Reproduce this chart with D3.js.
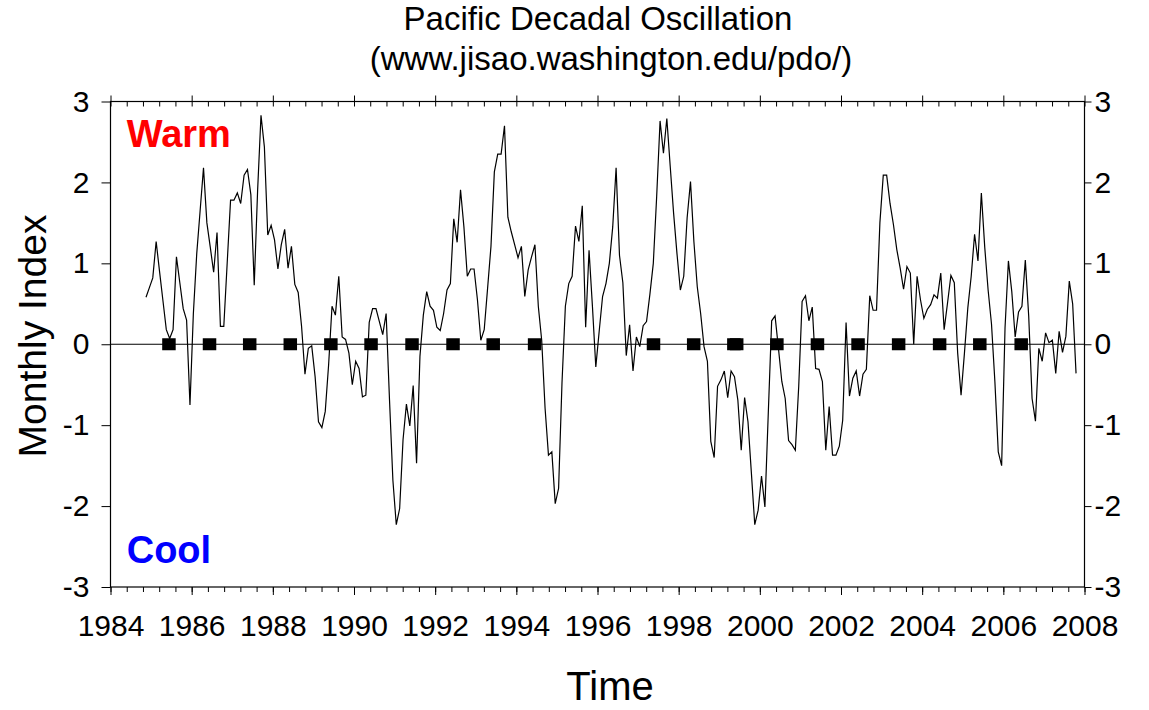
<!DOCTYPE html>
<html>
<head>
<meta charset="utf-8">
<script src="https://cdn.jsdelivr.net/npm/d3@7"></script>
<style>
  html, body { margin: 0; padding: 0; background: #fff; }
  svg { display: block; }
  text { font-family: "Liberation Sans", Arial, sans-serif; }
</style>
</head>
<body>
<svg id="chart" width="1149" height="710"></svg>
<script>
// Monthly PDO index, January 1985 through December 2007 (one row per year)
const firstYear = 1985;
const pdoMonthly = [
  0.58, 0.70, 0.82, 1.27, 0.90, 0.54, 0.18, 0.07, 0.18, 1.08, 0.76, 0.44,    // 1985
  0.30, -0.75, 0.38, 1.12, 1.65, 2.18, 1.50, 1.20, 0.89, 1.38, 0.22, 0.22,   // 1986
  1.00, 1.78, 1.78, 1.87, 1.74, 2.09, 2.16, 1.85, 0.73, 1.90, 2.83, 2.44,    // 1987
  1.35, 1.47, 1.29, 0.93, 1.23, 1.42, 0.94, 1.21, 0.74, 0.64, 0.22, -0.37,   // 1988
  -0.05, -0.02, -0.40, -0.96, -1.03, -0.83, -0.25, 0.47, 0.36, 0.84, 0.09, 0.06, // 1989
  -0.11, -0.50, -0.21, -0.30, -0.65, -0.63, 0.27, 0.44, 0.44, 0.28, 0.12, 0.38,  // 1990
  -0.69, -1.68, -2.23, -2.03, -1.18, -0.74, -1.01, -0.51, -1.47, -0.15, 0.36, 0.65, // 1991
  0.47, 0.42, 0.21, 0.17, 0.38, 0.67, 0.75, 1.55, 1.26, 1.91, 1.45, 0.84,    // 1992
  0.93, 0.93, 0.55, 0.05, 0.18, 0.69, 1.21, 2.13, 2.35, 2.35, 2.70, 1.57,    // 1993
  1.39, 1.23, 1.07, 1.21, 0.59, 0.92, 1.08, 1.23, 0.47, 0.05, -0.79, -1.37,  // 1994
  -1.33, -1.97, -1.78, -0.48, 0.47, 0.75, 0.84, 1.46, 1.27, 1.71, 0.21, 1.16, // 1995
  0.47, -0.28, 0.16, 0.59, 0.75, 1.00, 1.45, 2.18, 1.10, 0.76, -0.14, 0.24,  // 1996
  -0.33, 0.09, -0.03, 0.23, 0.28, 0.62, 1.00, 1.83, 2.76, 2.36, 2.79, 2.20,  // 1997
  1.62, 1.12, 0.67, 0.84, 1.56, 2.01, 1.27, 0.71, 0.38, -0.03, -0.21, -1.20, // 1998
  -1.40, -0.52, -0.44, -0.33, -0.66, -0.33, -0.40, -0.69, -1.31, -0.66, -0.96, -1.59, // 1999
  -2.23, -2.05, -1.63, -2.01, -0.85, 0.29, 0.35, -0.05, -0.46, -0.67, -1.19, -1.24, // 2000
  -1.31, -0.52, 0.53, 0.60, 0.29, 0.46, -0.30, -0.31, -0.46, -1.31, -0.77, -1.37, // 2001
  -1.37, -1.26, -0.94, 0.27, -0.64, -0.42, -0.33, -0.64, -0.37, -0.31, 0.60, 0.42, // 2002
  0.42, 1.50, 2.09, 2.09, 1.74, 1.48, 1.17, 0.94, 0.68, 0.96, 0.88, 0.00,    // 2003
  0.84, 0.55, 0.32, 0.43, 0.49, 0.61, 0.57, 0.88, 0.18, 0.51, 0.85, 0.76,    // 2004
  -0.11, -0.63, -0.11, 0.45, 0.84, 1.36, 1.03, 1.87, 1.20, 0.67, 0.25, -0.46, // 2005
  -1.33, -1.50, 0.20, 1.03, 0.65, 0.09, 0.40, 0.47, 1.04, 0.35, -0.67, -0.95, // 2006
  -0.05, -0.21, 0.14, 0.02, 0.05, -0.36, 0.16, -0.10, 0.10, 0.78, 0.50, -0.36  // 2007
];
// Monthly samples are plotted on a decimal-year axis, offset by 1.5 months
const monthOffset = -0.125;

// Annual reference markers along the zero line (decimal years)
const markerTimes = [
  1985.44, 1986.44, 1987.43, 1988.43, 1989.43, 1990.42, 1991.43, 1992.44, 1993.43, 1994.45,
  1997.38, 1998.37, 1999.36, 1999.43, 2000.42, 2001.42, 2002.42, 2003.42, 2004.43, 2005.42, 2006.44
];

const xMajorTicks = [1984, 1986, 1988, 1990, 1992, 1994, 1996, 1998, 2000, 2002, 2004, 2006, 2008];
const yTicks = [-3, -2, -1, 0, 1, 2, 3];
const xDomain = [1984, 2008];
const yDomain = [-3, 3];

const titleLines = ["Pacific Decadal Oscillation", "(www.jisao.washington.edu/pdo/)"];
const xLabel = "Time";
const yLabel = "Monthly Index";

// ---- layout ----
const svg = d3.select("#chart");
const W = 1149, H = 710;
const margin = { left: 110.5, right: W - 1084.5, top: 101.5, bottom: H - 587 };
const plotW = W - margin.left - margin.right;
const plotH = H - margin.top - margin.bottom;

const x = d3.scaleLinear().domain(xDomain).range([margin.left, margin.left + plotW]);
const y = d3.scaleLinear().domain(yDomain).range([margin.top + plotH, margin.top]);

const series = pdoMonthly.map((v, i) => ({ t: firstYear + monthOffset + i / 12, v }));
const minorTicks = d3.range(0, 61).map(k => xDomain[0] + k * 0.4);
const plainNumber = d => String(d);   // ASCII hyphen for negatives

// ---- title ----
svg.append("text").attr("x", 598).attr("y", 30)
  .attr("text-anchor", "middle").attr("font-size", 33).text(titleLines[0]);
svg.append("text").attr("x", 611).attr("y", 70)
  .attr("text-anchor", "middle").attr("font-size", 33).text(titleLines[1]);

// ---- zero line ----
svg.append("line")
  .attr("x1", x(xDomain[0])).attr("x2", x(xDomain[1]))
  .attr("y1", y(0)).attr("y2", y(0))
  .attr("stroke", "#000").attr("stroke-width", 1.2);

// ---- data line ----
const line = d3.line().x(d => x(d.t)).y(d => y(d.v));
svg.append("path").datum(series)
  .attr("d", line)
  .attr("fill", "none")
  .attr("stroke", "#000")
  .attr("stroke-width", 1.2)
  .attr("stroke-linejoin", "miter");

// ---- markers ----
const mw = 13.5, mh = 12;
svg.append("g").selectAll("rect").data(markerTimes).join("rect")
  .attr("x", d => x(d) - mw / 2)
  .attr("y", y(0) - mh / 2)
  .attr("width", mw).attr("height", mh)
  .attr("fill", "#000");

// ---- axes ----
function styleAxis(g) {
  g.select(".domain").remove();
  g.selectAll(".tick line").attr("stroke", "#000").attr("stroke-width", 1);
  g.selectAll(".tick text").attr("fill", "#000");
}

// bottom: minor + major ticks pointing out, labels every two years
svg.append("g").attr("transform", `translate(0,${y(yDomain[0])})`)
  .call(d3.axisBottom(x).tickValues(minorTicks).tickSize(5).tickFormat(""))
  .call(styleAxis);
svg.append("g").attr("transform", `translate(0,${y(yDomain[0])})`)
  .call(d3.axisBottom(x).tickValues(xMajorTicks).tickSize(8).tickPadding(20).tickFormat(plainNumber))
  .call(styleAxis)
  .call(g => g.selectAll(".tick text").attr("font-size", 30));

// top: minor ticks inside, majors out
svg.append("g").attr("transform", `translate(0,${y(yDomain[1])})`)
  .call(d3.axisBottom(x).tickValues(minorTicks).tickSize(5).tickFormat(""))
  .call(styleAxis);
svg.append("g").attr("transform", `translate(0,${y(yDomain[1])})`)
  .call(d3.axisTop(x).tickValues(xMajorTicks).tickSize(6).tickFormat(""))
  .call(styleAxis);

// left & right value axes
svg.append("g").attr("transform", `translate(${x(xDomain[0])},0)`)
  .call(d3.axisLeft(y).tickValues(yTicks).tickSize(9).tickPadding(12).tickFormat(plainNumber))
  .call(styleAxis)
  .call(g => g.selectAll(".tick text").attr("font-size", 30));
svg.append("g").attr("transform", `translate(${x(xDomain[1])},0)`)
  .call(d3.axisRight(y).tickValues(yTicks).tickSize(7).tickPadding(3).tickFormat(plainNumber))
  .call(styleAxis)
  .call(g => g.selectAll(".tick text").attr("font-size", 30));

// frame
svg.append("rect")
  .attr("x", x(xDomain[0])).attr("y", y(yDomain[1]))
  .attr("width", plotW).attr("height", plotH)
  .attr("fill", "none").attr("stroke", "#000").attr("stroke-width", 1.2);

// ---- axis titles ----
svg.append("text").attr("x", 610).attr("y", 700)
  .attr("text-anchor", "middle").attr("font-size", 40).text(xLabel);
svg.append("text")
  .attr("transform", `translate(46,336) rotate(-90)`)
  .attr("text-anchor", "middle").attr("font-size", 39).text(yLabel);

// ---- regime labels ----
svg.append("text").attr("x", x(1984.4)).attr("y", 147)
  .attr("font-size", 38).attr("font-weight", "bold").attr("fill", "#ff0000").text("Warm");
svg.append("text").attr("x", x(1984.4)).attr("y", 563)
  .attr("font-size", 38).attr("font-weight", "bold").attr("fill", "#0000ff").text("Cool");
</script>
</body>
</html>
